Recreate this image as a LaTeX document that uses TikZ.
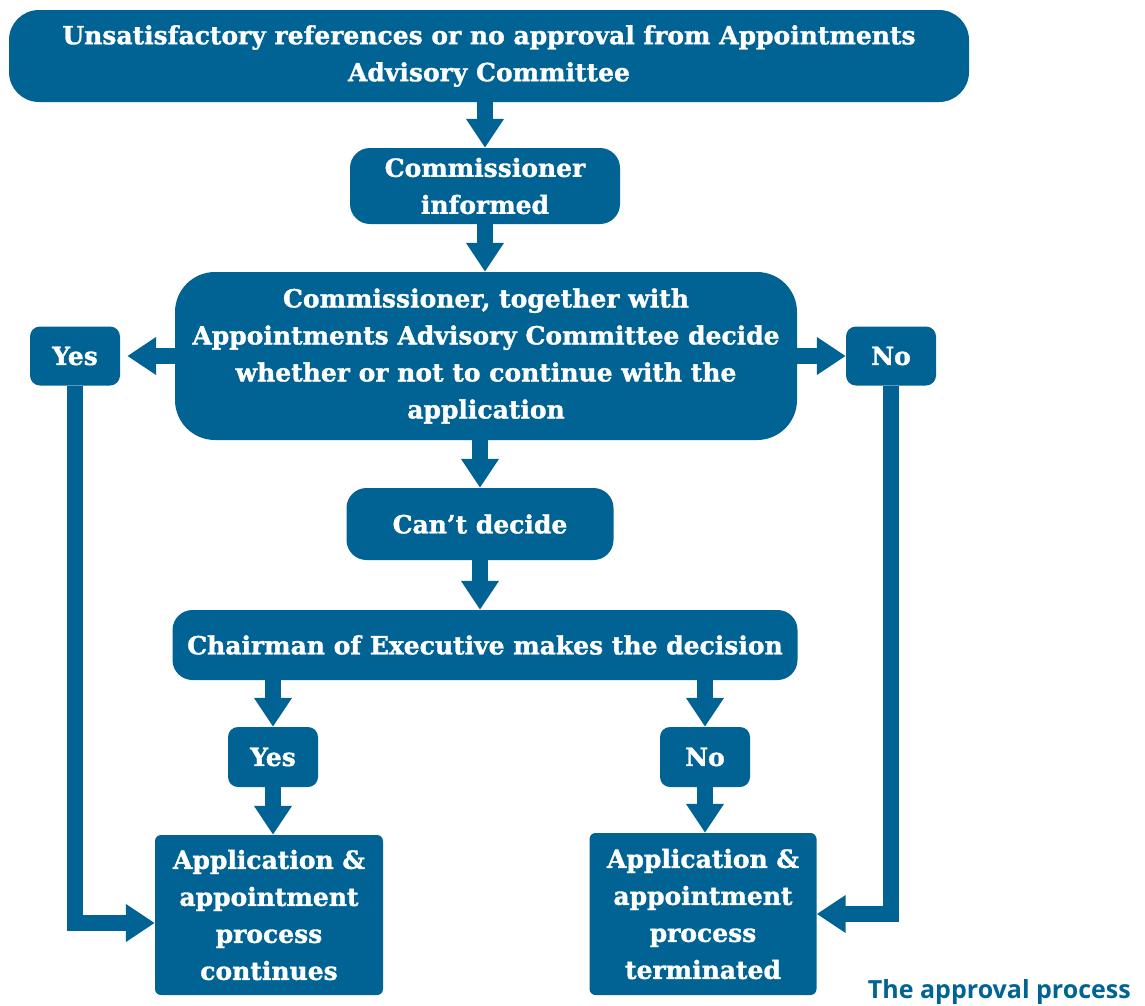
\documentclass[tikz,border=0pt]{standalone}
\usepackage{fontspec}
\setmainfont{DejaVu Serif}[BoldFeatures={FakeBold=1.3}]
\newfontfamily\captionfont{Open Sans}
\usetikzlibrary{arrows.meta}
\definecolor{flowblue}{RGB}{0,99,148}

\tikzset{
  box/.style={fill=flowblue, text=white, font=\bfseries\fontsize{25}{37}\selectfont,
    align=center, inner sep=0pt},
  flow/.style={-{Triangle[width=36pt,length=29pt]}, line width=16pt, flowblue},
}

\begin{document}
\begin{tikzpicture}[x=1pt,y=-1pt]
\useasboundingbox (0,0) rectangle (1145,1005);
% boxes
\node (refs) at (489,56) [box, minimum width=960pt, minimum height=92pt, rounded corners=30pt]
  {Unsatisfactory references or no approval from Appointments\\Advisory Committee};
\node (informed) at (485,186) [box, minimum width=270pt, minimum height=76pt, rounded corners=20pt]
  {Commissioner\\informed};
\node (together) at (486,356) [box, minimum width=622pt, minimum height=168pt, rounded corners=40pt]
  {Commissioner, together with\\Appointments Advisory Committee decide\\whether or not to continue with the\\application};
\node (yesA) at (75,356) [box, minimum width=90pt, minimum height=59pt, rounded corners=10pt] {Yes};
\node (noA) at (891,356) [box, minimum width=90pt, minimum height=59pt, rounded corners=10pt] {No};
\node (cant) at (480,524) [box, minimum width=267pt, minimum height=72pt, rounded corners=20pt]
  {Can’t decide};
\node (chair) at (485,645) [box, minimum width=625pt, minimum height=70pt, rounded corners=20pt]
  {Chairman of Executive makes the decision};
\node (yesB) at (273,757) [box, minimum width=90pt, minimum height=60pt, rounded corners=10pt] {Yes};
\node (noB) at (705,757) [box, minimum width=90pt, minimum height=60pt, rounded corners=10pt] {No};
\node (cont) at (269,915) [box, minimum width=228pt, minimum height=160pt, rounded corners=6pt]
  {Application \&\\appointment\\process\\continues};
\node (term) at (703,914) [box, minimum width=227pt, minimum height=162pt, rounded corners=6pt]
  {Application \&\\appointment\\process\\terminated};
\node (title) at (1131,998) [anchor=base east, inner sep=0pt, text=flowblue,
  font=\captionfont\bfseries\fontsize{25}{30}\selectfont] {The approval process};
% connectors
\draw[flow] (informed.north |- refs.south) -- (informed.north);
\draw[flow] (informed.south) -- (informed.south |- together.north);
\draw[flow, shorten >=7pt] (together.west) -- (yesA.east);
\draw[flow] (together.east) -- (noA.west);
\draw[flow] (cant.north |- together.south) -- (cant.north);
\draw[flow] (cant.south) -- (cant.south |- chair.north);
\draw[flow] (yesB.north |- chair.south) -- (yesB.north);
\draw[flow] (noB.north |- chair.south) -- (noB.north);
\draw[flow] (yesB.south) -- (yesB.south |- cont.north);
\draw[flow] (noB.south) -- (noB.south |- term.north);
\draw[flow] (yesA.south) |- ([yshift=-8pt]cont.west);
\draw[flow] (noA.south) |- (term.east);
\end{tikzpicture}
\end{document}
